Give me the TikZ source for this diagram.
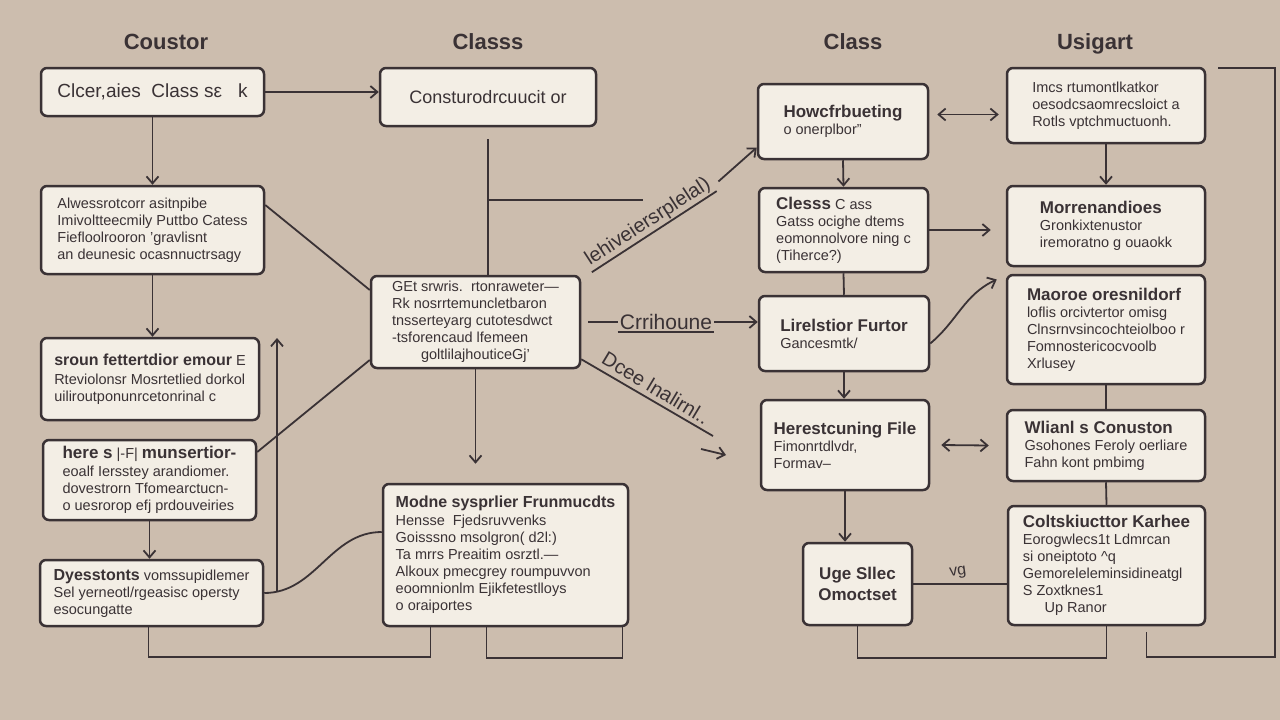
\documentclass[tikz,border=0pt]{standalone}
\usepackage{fontspec}
\setmainfont{Liberation Sans}
\usepackage{xcolor}
\usepackage{tikz}
\usetikzlibrary{arrows.meta}

\definecolor{sand}{HTML}{CCBDAE}
\definecolor{paper}{HTML}{F3EEE5}
\definecolor{ink}{HTML}{3A3235}

\newcommand{\hd}[1]{{\bfseries\fontsize{17}{20}\selectfont #1}}

\tikzset{
  box/.style={draw=ink, line width=2.5pt, fill=paper, rounded corners=6pt, align=left, inner sep=0pt,
    text=ink, font=\fontsize{14.5}{17}\selectfont},
  ttl/.style={text=ink, anchor=base, font=\bfseries\fontsize{22}{26}\selectfont},
  lbl/.style={text=ink, inner sep=2pt, font=\fontsize{20}{23}\selectfont},
  lnk/.style={draw=ink, line width=1.8pt},
  arr/.style={lnk, -{Straight Barb[length=7pt,width=12pt]}},
  dbl/.style={lnk, {Straight Barb[length=7pt,width=12pt]}-{Straight Barb[length=7pt,width=12pt]}}
}

\begin{document}
\begin{tikzpicture}[x=1pt,y=-1pt]

\fill[sand] (0,0) rectangle (1280,720);
\useasboundingbox (0,0) rectangle (1280,720);

\node[ttl] (t1) at (166,49) {Coustor};
\node[ttl] (t2) at (488,49) {Classs};
\node[ttl] (t3) at (853,49) {Class};
\node[ttl] (t4) at (1095,49) {Usigart};

\node[box, minimum width=223, minimum height=48, font=\fontsize{19}{22}\selectfont] (cls) at (152.5,92)
  {Clcer,aies\ \ Class\ sε\ \ \ k};
\node[box, minimum width=216, minimum height=58, font=\fontsize{18}{21}\selectfont] (ctor) at (488,97)
  {Consturodrcuucit or};

\node[box, minimum width=223, minimum height=88] (desc) at (152.5,230)
  {Alwessrotcorr asitnpibe\\ Imivoltteecmily\ Puttbo\ Catess\\ Fiefloolrooron 'gravlisnt\\ an deunesic ocasnnuctrsagy};
\node[box, minimum width=218, minimum height=82] (err) at (150,379)
  {{\bfseries\fontsize{16}{19}\selectfont sroun fettertdior emour} E\\[2pt] Rteviolonsr\ Mosrtetlied dorkol\\ uiliroutponunrcetonrinal c};
\node[box, minimum width=213, minimum height=80] (here) at (149.5,480)
  {\hd{here s} |-F| \hd{munsertior-}\\[1pt] eoalf Iersstey arandiomer.\\ dovestrorn Tfomearctucn-\\ o uesrorop efj prdouveiries};
\node[box, minimum width=223, minimum height=66] (dest) at (151.5,593)
  {{\bfseries\fontsize{16}{19}\selectfont Dyesstonts} vomssupidlemer\\ Sel yerneotl/rgeasisc opersty\\ esocungatte};

\node[box, minimum width=209, minimum height=92] (gen) at (475.5,322)
  {GEt srwris.\ \ rtonraweter—\\ Rk nosrrtemuncletbaron\\ tnsserteyarg cutotesdwct\\ -tsforencaud\ lfemeen\\ \hspace{2em}goltlilajhouticeGj'};
\node[box, minimum width=245, minimum height=142] (mod) at (505.5,555)
  {{\bfseries\fontsize{16}{19}\selectfont Modne sysprlier Frunmucdts}\\[1pt] Hensse\ \ Fjedsruvvenks\\ Goisssno msolgron( d2l:)\\
   Ta mrrs Preaitim osrztl.—\\ Alkoux pmecgrey roumpuvvon\\ eoomnionlm Ejikfetestlloys\\ o oraiportes};

\node[box, minimum width=170, minimum height=75] (how) at (843,121.5)
  {\hd{Howcfrbueting}\\ o onerplbor"};
\node[box, minimum width=169, minimum height=84] (clss) at (843.5,230)
  {\hd{Clesss} C ass\\ Gatss ocighe dtems\\ eomonnolvore ning c\\ (Tiherce?)};
\node[box, minimum width=170, minimum height=75] (lir) at (844,333.5)
  {\hd{Lirelstior Furtor}\\ Gancesmtk/};
\node[box, minimum width=168, minimum height=90] (fil) at (845,445)
  {\hd{Herestcuning File}\\ Fimonrtdlvdr,\\ Formav--};
\node[box, minimum width=109, minimum height=82, align=center, font=\bfseries\fontsize{17}{21}\selectfont] (use) at (857.5,584)
  {Uge Sllec\\ Omoctset};

\node[box, minimum width=198, minimum height=75] (imc) at (1106,105.5)
  {Imcs rtumontlkatkor\\ oesodcsaomrecsloict a\\ Rotls vptchmuctuonh.};
\node[box, minimum width=198, minimum height=80] (mor) at (1106,226)
  {\hd{Morrenandioes}\\ Gronkixtenustor\\ iremoratno g ouaokk};
\node[box, minimum width=198, minimum height=109] (mao) at (1106,329.5)
  {\hd{Maoroe oresnildorf}\\ loflis orcivtertor omisg\\ Clnsrnvsincochteiolboo r\\ Fomnostericocvoolb\\ Xrlusey};
\node[box, minimum width=198, minimum height=71] (wli) at (1106,445.5)
  {\hd{Wlianl s Conuston}\\ Gsohones Feroly oerliare\\ Fahn kont pmbimg};
\node[box, minimum width=197, minimum height=119] (col) at (1106.5,565.5)
  {\hd{Coltskiucttor Karhee}\\ Eorogwlecs1t Ldmrcan\\ si oneiptoto \^{}q\\ Gemoreleleminsidineatgl\\ S Zoxtknes1\\ \hspace{1.5em}Up Ranor};

\draw[arr] (cls.east) -- (cls.east -| ctor.west);
\draw[arr] (cls.south) -- (desc.north);
\draw[arr] (desc.south) -- (desc.south |- err.north);
\draw[arr] (here.south) -- (here.south |- dest.north);
\draw[lnk] ([yshift=25pt]desc.east) -- ([yshift=32pt]gen.west);
\draw[lnk] ([yshift=28pt]here.east) -- ([yshift=-38pt]gen.west);
\coordinate (up0) at (277,592);
\coordinate (up1) at (277,338);
\draw[arr] (up0) -- (up1);
\draw[lnk] (dest.east) to[out=0,in=180] ([yshift=23pt]mod.west);

\draw[lnk] ([yshift=-12pt]ctor.south) -- (ctor.south |- gen.north);
\coordinate (br0) at (ctor.south |- 0,200);
\coordinate (br1) at (643,200);
\draw[lnk] (br0) -- (br1);
\draw[arr] (gen.south) -- ([yshift=19pt]gen.south |- mod.north);

\node[lbl, rotate=33] (lehi) at (648,222) {lehiveiersrplelal)};
\draw[lnk] (lehi.south west) -- (lehi.south east);
\draw[arr] ([xshift=8pt]lehi.east) -- ([yshift=-26pt]how.west);

\node[lbl, font=\fontsize{21}{24}\selectfont] (crr) at (666,322) {Crrihoune};
\draw[lnk] ([xshift=7pt]gen.east) -- (crr.west);
\draw[lnk] (crr.south west) -- (crr.south east);
\draw[arr] (crr.east) -- (crr.east -| lir.west);

\node[lbl, rotate=-31] (dcee) at (656,388) {Dcee lnalirnl..};
\coordinate (dend) at (713,436);
\draw[lnk] ([yshift=10pt]gen.south east) -- (dend);
\coordinate (d2) at (701,449);
\draw[arr] (d2) -- ++(25,6);

\draw[dbl] ([xshift=8pt,yshift=7pt]how.east) -- ([xshift=-7pt,yshift=-9pt]imc.west);
\draw[arr] (how.south) -- (clss.north);
\draw[arr] (clss.east) -- ([xshift=-15pt]clss.east -| mor.west);
\draw[lnk] (clss.south) -- (lir.north);
\draw[arr] ([yshift=-10pt]lir.east) to[out=40,in=205] ([xshift=-9pt,yshift=50pt]mao.west);
\draw[arr] (lir.south) -- (lir.south |- fil.north);
\draw[dbl] ([xshift=11pt]fil.east) -- ([xshift=-17pt]wli.west);
\draw[arr] (fil.south) -- (fil.south |- use.north);
\draw[lnk] (use.east) -- (use.east -| col.west);
\node[lbl, font=\fontsize{16}{18}\selectfont, rotate=8] (vg) at (958,573) {vg};

\draw[arr] (imc.south) -- (mor.north);
\draw[lnk] (mao.south) -- (wli.north);
\draw[lnk] (wli.south) -- (col.north);

\coordinate (rb0) at (1218,68);
\coordinate (rb1) at (1275,657);
\draw[lnk] (rb0) -| (rb1) -| ([xshift=40pt,yshift=-6pt]col.south);
\draw[lnk] (use.south) -- ++(0,32) -| (col.south);
\draw[lnk] ([xshift=-3pt]dest.south) -- ++(0,30) -| ([xshift=-75pt]mod.south);
\draw[lnk] ([xshift=-19pt]mod.south) -- ++(0,31) -| ([xshift=117pt]mod.south);

\end{tikzpicture}
\end{document}
